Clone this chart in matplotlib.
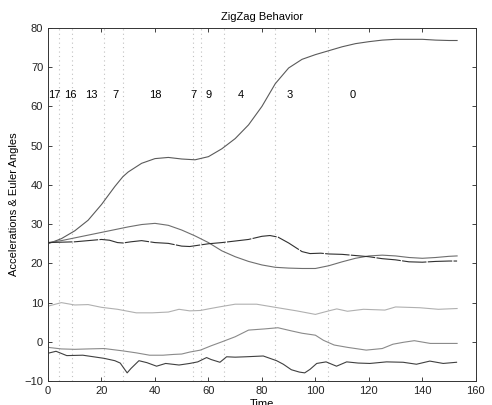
import matplotlib
matplotlib.use('Agg')
import matplotlib.pyplot as plt

plt.rcParams['font.family'] = ['Liberation Sans', 'DejaVu Sans']

# top curve
t1 = [0, 5, 10, 15, 20, 25, 28, 30, 35, 40, 45, 50, 55, 60, 65, 70, 75, 80, 85, 90,
      95, 100, 105, 110, 115, 120, 125, 130, 135, 140, 145, 150, 153]
y1 = [25, 26.3, 28.3, 31.0, 35.0, 39.6, 42.1, 43.3, 45.5, 46.7, 47.0, 46.6, 46.4, 47.2,
      49.2, 51.8, 55.3, 60.0, 65.8, 69.8, 72.0, 73.2, 74.2, 75.2, 76.0, 76.5, 76.9,
      77.1, 77.1, 77.1, 76.9, 76.8, 76.8]

# hump near 30
t2 = [0, 5, 10, 15, 20, 25, 30, 35, 40, 45, 50, 55, 60, 65, 70, 75, 80, 85, 90, 95,
      100, 105, 110, 115, 120, 125, 130, 135, 140, 145, 150, 153]
y2 = [25.3, 25.8, 26.5, 27.2, 27.9, 28.6, 29.3, 29.9, 30.2, 29.7, 28.5, 27.0, 25.3,
      23.2, 21.7, 20.5, 19.6, 19.0, 18.8, 18.7, 18.7, 19.4, 20.4, 21.3, 21.9, 22.1,
      21.9, 21.5, 21.3, 21.5, 21.8, 21.9]

# dark dashed around 25
t3 = [0, 5, 10, 15, 20, 23, 26, 28, 31, 35, 40, 45, 50, 53, 57, 60, 65, 70, 75, 80,
      83, 86, 90, 95, 98, 102, 105, 110, 115, 120, 125, 130, 135, 140, 145, 150, 153]
y3 = [25.3, 25.4, 25.5, 25.8, 26.1, 25.9, 25.3, 25.2, 25.5, 25.8, 25.3, 25.1, 24.4,
      24.3, 24.7, 25.0, 25.3, 25.7, 26.1, 26.9, 27.1, 26.7, 25.2, 23.0, 22.5, 22.6,
      22.4, 22.3, 22.0, 21.7, 21.2, 20.9, 20.4, 20.3, 20.5, 20.6, 20.6]

# light gray around 8
t4 = [0, 5, 10, 15, 20, 26, 33, 39, 45, 49, 53, 57, 60, 64, 70, 78, 85, 93, 100, 105,
      108, 112, 118, 126, 130, 139, 146, 153]
y4 = [9.1, 10.0, 9.4, 9.5, 8.8, 8.3, 7.4, 7.4, 7.6, 8.3, 7.9, 8.0, 8.4, 8.9, 9.6, 9.6,
      8.8, 7.9, 7.0, 7.9, 8.4, 7.8, 8.3, 8.1, 8.9, 8.7, 8.3, 8.5]

# mid gray around 0
t5 = [0, 5, 10, 15, 21, 28, 33, 38, 43, 47, 50, 53, 57, 61, 65, 70, 75, 81, 86, 91,
      95, 100, 103, 107, 112, 119, 125, 129, 133, 137, 143, 148, 153]
y5 = [-1.4, -1.8, -1.9, -1.8, -1.7, -2.3, -2.8, -3.4, -3.4, -3.2, -3.1, -2.6, -2.1,
      -1.0, 0.0, 1.3, 3.0, 3.3, 3.6, 2.8, 2.2, 1.7, 0.4, -0.8, -1.4, -2.1, -1.7, -0.6,
      -0.1, 0.3, -0.4, -0.4, -0.4]

# dark bottom
t6 = [0, 3, 7, 13, 17, 21, 25, 27, 29.6, 31, 34, 37, 40.6, 44, 49, 53, 56, 59.3, 61,
      64.3, 66.8, 70, 74, 80.5, 85.5, 88, 91, 94, 96, 98, 100.5, 104, 107.9, 111.7,
      116, 120.4, 126.6, 132.8, 137.8, 142.8, 147.8, 152.8]
y6 = [-2.9, -2.4, -3.5, -3.4, -3.8, -4.2, -4.8, -5.4, -7.9, -6.8, -4.8, -5.3, -6.2,
      -5.5, -5.9, -5.5, -5.1, -4.0, -4.5, -5.2, -3.8, -3.9, -3.8, -3.6, -4.8, -5.7,
      -7.1, -7.7, -7.9, -7.0, -5.5, -5.1, -6.2, -5.1, -5.4, -5.5, -5.1, -5.2, -5.7,
      -4.9, -5.5, -5.2]

# segment boundaries and counts
seg_bounds = [4.2, 9.1, 21, 28, 54.1, 57.1, 65.9, 85, 104.8]
seg_label_x = [2.5, 8.5, 16.3, 25.3, 40, 54.3, 60, 72.1, 90.2, 113.8]
seg_labels = ['17', '16', '13', '7', '18', '7', '9', '4', '3', '0']

fig = plt.figure(figsize=(4.92, 4.05), dpi=100)
ax = fig.add_axes([0.0976, 0.059, 0.8695, 0.872])

for b in seg_bounds:
    ax.axvline(b, color='#c0c0c0', linestyle=(0, (1, 3)), lw=0.8)

ax.plot(t1, y1, color='#5a5a5a', lw=0.8)
ax.plot(t2, y2, color='#6e6e6e', lw=0.8)
ax.plot(t3, y3, color='#303030', lw=0.8, linestyle=(0, (22, 1.2)))
ax.plot(t4, y4, color='#b0b0b0', lw=0.8)
ax.plot(t5, y5, color='#8a8a8a', lw=0.8)
ax.plot(t6, y6, color='#404040', lw=0.8)

for x, s in zip(seg_label_x, seg_labels):
    ax.text(x, 63, s, ha='center', va='center', fontsize=8)

ax.set_xlim(0, 160)
ax.set_ylim(-10, 80)
ax.set_xticks(range(0, 161, 20))
ax.set_yticks(range(-10, 81, 10))
ax.tick_params(direction='in', top=True, right=True, length=3, width=0.6,
               labelsize=8, pad=3.5, colors='#222222')
for sp in ax.spines.values():
    sp.set_linewidth(0.7)
    sp.set_color('#333333')

ax.set_title('ZigZag Behavior', fontsize=8, pad=6)
ax.set_xlabel('Time', fontsize=8, labelpad=2)
ax.set_ylabel('Accelerations & Euler Angles', fontsize=8, labelpad=4)

fig.savefig('out.png', dpi=100)
